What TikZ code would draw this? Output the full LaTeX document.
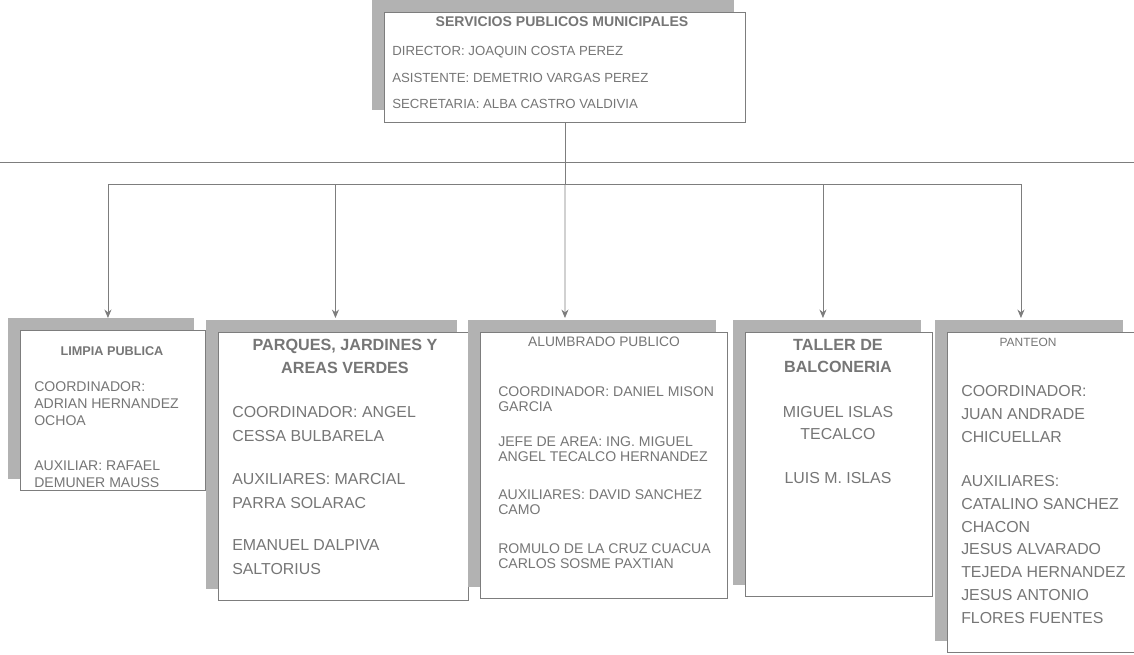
\documentclass[tikz,border=0pt]{standalone}
\usepackage{fontspec}
\setmainfont{Liberation Sans}
\usetikzlibrary{arrows.meta, positioning, calc, shadows}
\definecolor{myink}{RGB}{118,118,118}
\definecolor{myline}{RGB}{125,125,125}
\definecolor{myshade}{RGB}{178,178,178}
\tikzset{
  panel/.style={rectangle, draw=myline, fill=white, anchor=north west,
    inner sep=0pt, line width=0.6pt,
    drop shadow={shadow xshift=-8.5pt, shadow yshift=8.5pt, fill=myshade, opacity=1}},
  title/.style={align=center, inner sep=0pt, text=myink, font=\bfseries\fontsize{10}{16.3}\selectfont},
  body/.style={anchor=north west, align=left, inner sep=0pt, text=myink},
  cbody/.style={anchor=north, align=center, inner sep=0pt, text=myink},
  arrow/.style={-{Stealth[length=6pt, width=5pt]}, color=myline, line width=0.6pt},
  line/.style={color=myline, line width=0.6pt}
}

\begin{document}
\begin{tikzpicture}[x=0.025cm, y=-0.025cm]
  \useasboundingbox (0,0) rectangle (1134,655);

  % rule across the page
  \draw[line] (0,162) -- (1134,162);

  % boxes
  \node[panel, minimum width=9.025cm, minimum height=2.75cm] (top) at (384,12) {};
  \node[panel, minimum width=4.625cm, minimum height=4.0cm] (limpia) at (20,330) {};
  \node[panel, minimum width=6.25cm, minimum height=6.7cm] (parques) at (218,332) {};
  \node[panel, minimum width=6.175cm, minimum height=6.65cm] (alumbrado) at (480,332) {};
  \node[panel, minimum width=4.675cm, minimum height=6.6cm] (taller) at (745,332) {};
  \node[panel, minimum width=4.675cm, minimum height=8.0cm] (panteon) at (947,332) {};

  % head office
  \node[title] (toptitle) at (562,22) {SERVICIOS PUBLICOS MUNICIPALES};
  \node[body, font=\fontsize{9.4}{19}\selectfont] (topinfo) at (392,46)
    {DIRECTOR: JOAQUIN COSTA PEREZ\\ASISTENTE: DEMETRIO VARGAS PEREZ\\SECRETARIA: ALBA CASTRO VALDIVIA};

  % departments
  \node[title, font=\bfseries\fontsize{9}{12}\selectfont] (limpiat) at (112,351) {LIMPIA PUBLICA};
  \node[body, font=\fontsize{10}{12.2}\selectfont] (limpiab) at (34,381)
    {COORDINADOR:\\ADRIAN HERNANDEZ\\OCHOA\\[20pt]AUXILIAR: RAFAEL\\DEMUNER MAUSS};

  \node[title, font=\bfseries\fontsize{11.5}{16.3}\selectfont] (parquest) at (345,356) {PARQUES, JARDINES Y\\AREAS VERDES};
  \node[body, font=\fontsize{11.3}{17.2}\selectfont] (parquesb) at (232,406)
    {COORDINADOR: ANGEL\\CESSA BULBARELA\\[13pt]AUXILIARES: MARCIAL\\PARRA SOLARAC\\[13pt]EMANUEL DALPIVA\\SALTORIUS};

  \node[title, font=\fontsize{9.8}{12}\selectfont] (alumbradot) at (604,342) {ALUMBRADO PUBLICO};
  \node[body, font=\fontsize{10}{10.8}\selectfont] (alumbradob) at (498,386)
    {COORDINADOR: DANIEL MISON\\GARCIA\\[14pt]JEFE DE AREA: ING. MIGUEL\\ANGEL TECALCO HERNANDEZ\\[16pt]AUXILIARES: DAVID SANCHEZ\\CAMO\\[17pt]ROMULO DE LA CRUZ CUACUA\\CARLOS SOSME PAXTIAN};

  \node[title, font=\bfseries\fontsize{11.5}{16.3}\selectfont] (tallert) at (838,356) {TALLER DE\\BALCONERIA};
  \node[cbody, font=\fontsize{11.3}{16}\selectfont] (tallerb) at (838,406)
    {MIGUEL ISLAS\\TECALCO\\[15pt]LUIS M. ISLAS};

  \node[title, font=\fontsize{8.5}{12}\selectfont] (panteont) at (1028,342) {PANTEON};
  \node[body, font=\fontsize{11.3}{16.3}\selectfont] (panteonb) at (961,385)
    {COORDINADOR:\\JUAN ANDRADE\\CHICUELLAR\\[15pt]AUXILIARES:\\CATALINO SANCHEZ\\CHACON\\JESUS ALVARADO\\TEJEDA HERNANDEZ\\JESUS ANTONIO\\FLORES FUENTES};

  % connectors
  \coordinate (hub) at ($(top.south)+(0,62)$);
  \draw[line] (top.south) -- (hub);
  \draw[arrow] (hub) -| ($(limpia.north)+(-5,-12)$);
  \draw[arrow] (hub) -| ($(parques.north)+(-8,-14)$);
  \draw[arrow] (hub) -- ($(alumbrado.north)+(-39,-14)$);
  \draw[arrow] (hub) -| ($(taller.north)+(-16,-14)$);
  \draw[arrow] (hub) -| ($(panteon.north)+(-20,-14)$);
\end{tikzpicture}
\end{document}
